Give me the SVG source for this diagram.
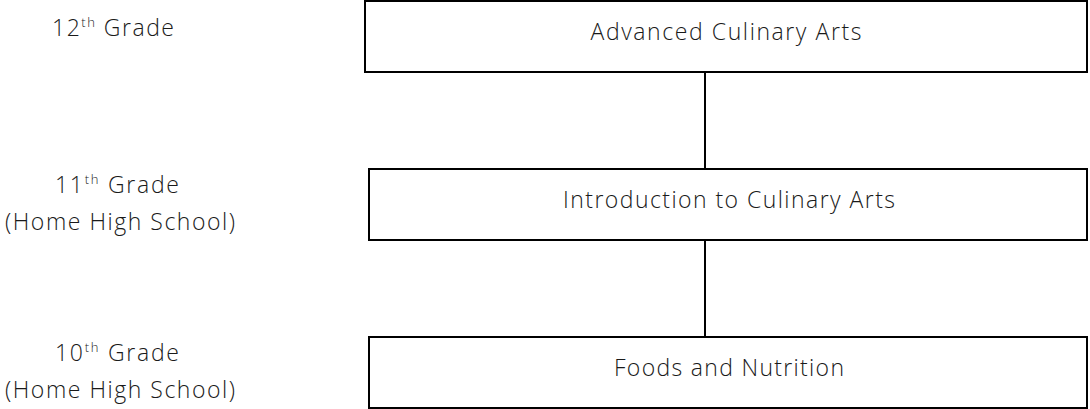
<svg xmlns="http://www.w3.org/2000/svg" width="1090" height="409" viewBox="0 0 1090 409">
<style>
.box{fill:#fff;stroke:#000;stroke-width:2}
.conn{stroke:#000;stroke-width:2;fill:none}
text{font-family:"Open Sans","Liberation Sans",sans-serif;font-weight:300;font-size:23px;fill:#1a1a1a;text-anchor:middle}
.sup{font-size:13px}
</style>
<rect width="1090" height="409" fill="#fff"/>
<g id="connectors">
<line class="conn" x1="705" y1="72" x2="705" y2="168"/>
<line class="conn" x1="705" y1="240" x2="705" y2="336"/>
</g>
<g id="label-12">
<text x="113" y="36" textLength="122" lengthAdjust="spacing">12<tspan class="sup" dy="-9">th</tspan><tspan dy="9"> Grade</tspan></text>
</g>
<g id="label-11">
<text x="117" y="193" textLength="124" lengthAdjust="spacing">11<tspan class="sup" dy="-9">th</tspan><tspan dy="9"> Grade</tspan></text>
<text x="120" y="230" textLength="230" lengthAdjust="spacing">(Home High School)</text>
</g>
<g id="label-10">
<text x="117" y="361" textLength="124" lengthAdjust="spacing">10<tspan class="sup" dy="-9">th</tspan><tspan dy="9"> Grade</tspan></text>
<text x="120" y="398" textLength="230" lengthAdjust="spacing">(Home High School)</text>
</g>
<g id="node-advanced">
<rect class="box" x="365" y="1" width="722" height="71"/>
<text x="726" y="40" textLength="271" lengthAdjust="spacing">Advanced Culinary Arts</text>
</g>
<g id="node-intro">
<rect class="box" x="369" y="169" width="718" height="71"/>
<text x="729" y="208" textLength="332" lengthAdjust="spacing">Introduction to Culinary Arts</text>
</g>
<g id="node-foods">
<rect class="box" x="369" y="337" width="718" height="71"/>
<text x="729" y="376" textLength="230" lengthAdjust="spacing">Foods and Nutrition</text>
</g>
</svg>
